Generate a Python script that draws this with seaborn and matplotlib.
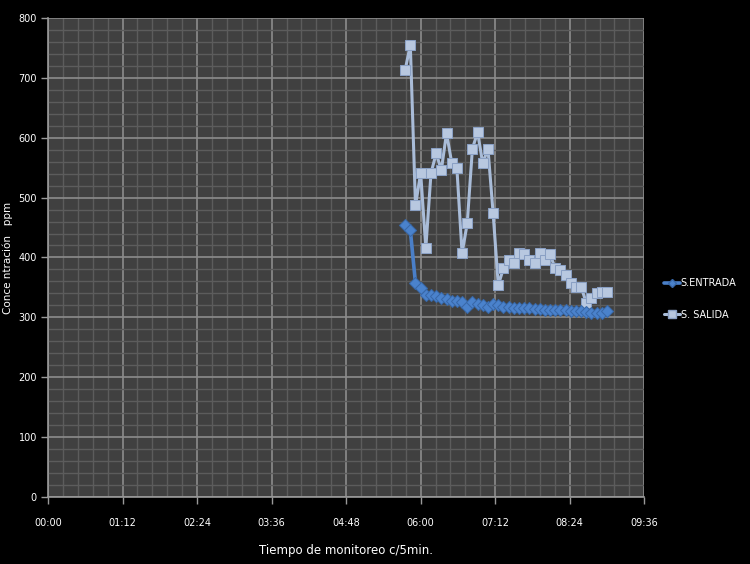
import matplotlib
matplotlib.use("Agg")
import matplotlib.pyplot as plt
import matplotlib.ticker as mticker
from matplotlib.lines import Line2D
import seaborn as sns
import pandas as pd

# time in minutes (every 5 min from 05:45 to 09:00)
tiempo_min = list(range(345, 541, 5))

s_entrada = [454, 446, 357, 349, 338, 337, 335, 333, 330, 328,
             327, 326, 318, 325, 322, 320, 318, 322, 320, 318,
             317, 316, 316, 315, 315, 314, 314, 313, 313, 312,
             312, 312, 311, 311, 310, 309, 308, 308, 307, 310]

s_salida = [713, 755, 487, 541, 416, 541, 574, 546, 608, 558,
            549, 407, 457, 582, 609, 557, 582, 474, 354, 382,
            396, 390, 407, 405, 396, 390, 407, 396, 405, 382,
            379, 371, 357, 351, 351, 324, 332, 340, 342, 342]

series_names = ["S.ENTRADA", "S. SALIDA"]
x_ticks_min = [0, 72, 144, 216, 288, 360, 432, 504, 576]
y_ticks = [0, 100, 200, 300, 400, 500, 600, 700, 800]

df = pd.DataFrame({
    "t": tiempo_min * 2,
    "v": s_entrada + s_salida,
    "serie": [series_names[0]] * len(s_entrada) + [series_names[1]] * len(s_salida),
})

sns.set_theme(style="dark")
plt.rcParams["font.family"] = ["Liberation Sans Narrow", "DejaVu Sans"]

fig = plt.figure(figsize=(7.5, 5.64), dpi=100, facecolor="black")
ax = fig.add_axes([0.064, 0.119, 0.795, 0.849])
ax.set_facecolor("#404040")

palette = {"S.ENTRADA": "#4a7fc8", "S. SALIDA": "#a9bcd8"}
markers = {"S.ENTRADA": "D", "S. SALIDA": "s"}
sns.lineplot(data=df, x="t", y="v", hue="serie", style="serie",
             palette=palette, markers=markers, dashes=False,
             linewidth=2.6, markersize=7, ax=ax, legend=False)
for ln, name in zip(ax.get_lines(), series_names):
    if name == "S. SALIDA":
        ln.set_markerfacecolor("#b8c8e0")
        ln.set_markeredgecolor("#8aa0c4")
        ln.set_zorder(3)
        ln.set_linewidth(2.2)
    else:
        ln.set_markerfacecolor("#4a82cc")
        ln.set_markeredgecolor("#3868a8")
        ln.set_markersize(6)
        ln.set_zorder(4)

ax.set_xlim(0, 576)
ax.set_ylim(0, 800)
ax.set_xticks(x_ticks_min)
ax.set_xticklabels([f"{m // 60:02d}:{m % 60:02d}" for m in x_ticks_min])
ax.set_yticks(y_ticks)
ax.xaxis.set_minor_locator(mticker.MultipleLocator(14.4))
ax.yaxis.set_minor_locator(mticker.MultipleLocator(20))

ax.grid(which="major", color="#8c8c8c", linewidth=1.2)
ax.grid(which="minor", color="#5c5c5c", linewidth=1.0)
ax.set_axisbelow(True)

for side in ["top", "right"]:
    ax.spines[side].set_visible(False)
for side in ["left", "bottom"]:
    ax.spines[side].set_visible(True)
    ax.spines[side].set_color("#9a9a9a")
    ax.spines[side].set_linewidth(1.2)

ax.tick_params(axis="both", which="major", colors="#9a9a9a", labelcolor="white",
               labelsize=7, length=5, width=1, direction="out")
ax.tick_params(axis="both", which="minor", length=0)
ax.tick_params(axis="x", pad=10)
ax.tick_params(axis="y", pad=3)
ax.tick_params(left=True, bottom=True)

ax.set_xlabel("Tiempo de monitoreo c/5min.", color="white", fontsize=8.5, labelpad=12)
ax.set_ylabel("Conce ntración   ppm", color="white", fontsize=7.5)
ax.yaxis.set_label_coords(-0.058, 0.5)

handles = [
    Line2D([], [], color="#4a7fc8", marker="D", markersize=4.5, linewidth=2.6,
           markerfacecolor="#4a82cc", markeredgecolor="#3868a8"),
    Line2D([], [], color="#a9bcd8", marker="s", markersize=5.5, linewidth=2.2,
           markerfacecolor="#b8c8e0", markeredgecolor="#8aa0c4"),
]
leg = fig.legend(handles, series_names, loc="center left",
                 bbox_to_anchor=(0.878, 0.47), frameon=False,
                 fontsize=7, labelcolor="white", handlelength=1.6,
                 handletextpad=0.1, labelspacing=2.2, borderpad=0.1)

fig.savefig("out.png", dpi=100, facecolor="black")
